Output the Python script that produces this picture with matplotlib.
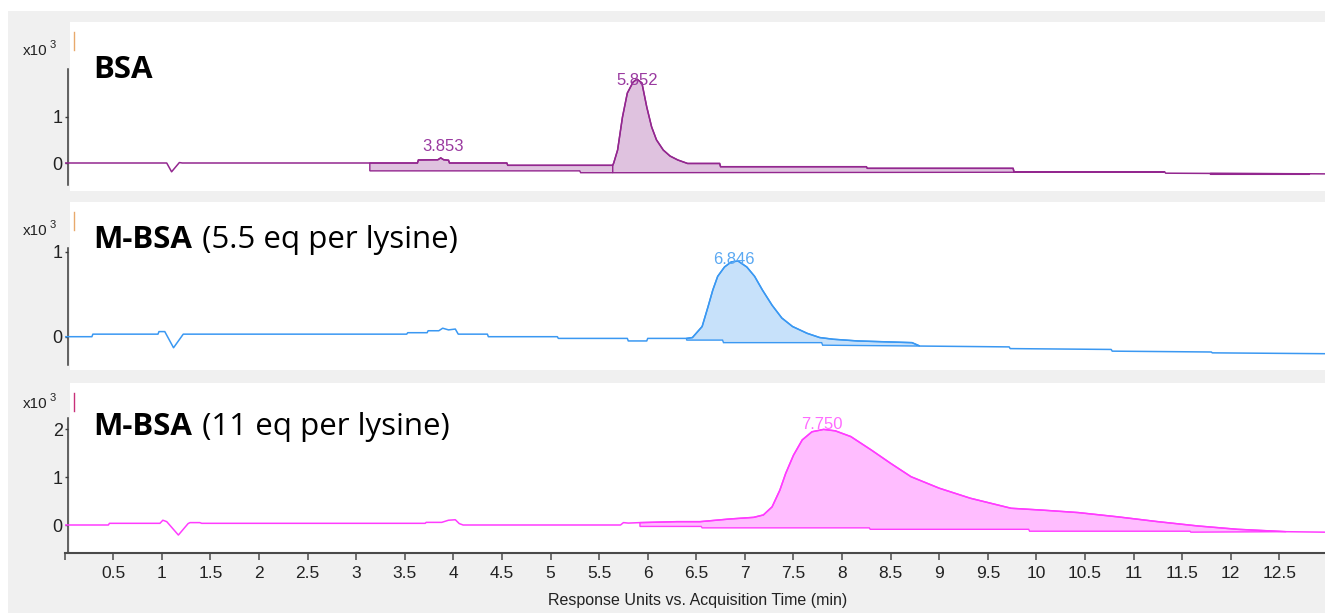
import numpy as np
import matplotlib
matplotlib.use('Agg')
import matplotlib.pyplot as plt
from matplotlib.patches import Rectangle
from matplotlib.lines import Line2D

# ---------------- data (time in min, response in x10^3) ----------------
bsa_t = [0, 1.05, 1.10, 1.18, 1.21, 3.14, 3.63, 3.64, 3.84, 3.87, 3.90, 3.95, 3.96,
         4.55, 4.56, 5.64, 5.65, 5.69, 5.74, 5.79, 5.85, 5.89, 5.94, 5.99, 6.04, 6.09,
         6.16, 6.23, 6.31, 6.41, 6.74, 6.75, 8.25, 8.26, 9.76, 9.77, 11.32, 11.33,
         11.79, 12.81, 12.97]
bsa_v = [0, 0, -0.19, 0.01, 0, 0, 0, 0.065, 0.07, 0.11, 0.07, 0.06, 0.0,
         0.0, -0.05, -0.05, 0.0, 0.28, 0.99, 1.51, 1.75, 1.81, 1.73, 1.21, 0.78, 0.50,
         0.28, 0.15, 0.065, -0.01, -0.01, -0.08, -0.08, -0.115, -0.115, -0.19, -0.19, -0.22,
         -0.225, -0.233, -0.235]
bsa_regions = [(3.14, 5.64), (5.64, 11.32), (11.79, 12.81)]
bsa_base_t = [[3.14, 5.30, 5.31, 5.64], [5.64, 9.76, 9.77, 11.32], [11.79, 12.81]]
bsa_base_v = [[-0.17, -0.17, -0.21, -0.21], [-0.21, -0.20, -0.19, -0.19], [-0.245, -0.245]]
bsa_peaks = ['3.853', '5.852']
bsa_peak_t = [3.853, 5.852]
bsa_peak_v = [0.19, 1.62]

mbsa55_t = [0, 0.28, 0.29, 0.96, 0.97, 1.03, 1.12, 1.22, 3.52, 3.53, 3.73, 3.74, 3.85,
            3.89, 3.95, 4.02, 4.05, 4.35, 4.36, 5.07, 5.08, 5.79, 5.80, 5.99, 6.00, 6.40,
            6.46, 6.56, 6.62, 6.67, 6.72, 6.79, 6.86, 6.93, 7.02, 7.10, 7.18, 7.28, 7.38,
            7.49, 7.64, 7.77, 7.91, 8.16, 8.72, 8.80, 9.72, 9.73, 10.77, 10.78, 11.80,
            11.81, 12.97]
mbsa55_v = [0, 0, 0.03, 0.03, 0.06, 0.06, -0.13, 0.03, 0.03, 0.047, 0.047, 0.07, 0.07,
            0.10, 0.08, 0.09, 0.03, 0.03, 0.0, 0.0, -0.02, -0.02, -0.05, -0.05, -0.02, -0.02,
            -0.01, 0.12, 0.35, 0.55, 0.71, 0.82, 0.88, 0.89, 0.82, 0.71, 0.55, 0.37, 0.22,
            0.12, 0.04, -0.01, -0.03, -0.05, -0.07, -0.11, -0.12, -0.14, -0.15, -0.17, -0.18,
            -0.19, -0.20]
mbsa55_regions = [(6.40, 8.80)]
mbsa55_base_t = [[6.40, 6.77, 6.78, 7.79, 7.80, 8.80]]
mbsa55_base_v = [[-0.04, -0.04, -0.07, -0.07, -0.10, -0.11]]
mbsa55_peaks = ['6.846']
mbsa55_peak_t = [6.846]
mbsa55_peak_v = [0.82]

mbsa11_t = [0, 0.45, 0.46, 0.98, 1.01, 1.05, 1.17, 1.27, 1.29, 1.39, 1.41, 3.71, 3.72,
            3.88, 3.95, 4.02, 4.06, 4.10, 5.72, 5.75, 5.80, 5.92, 6.30, 6.54, 6.84, 7.09,
            7.19, 7.28, 7.36, 7.42, 7.50, 7.59, 7.69, 7.81, 7.93, 8.09, 8.30, 8.50, 8.71,
            9.00, 9.32, 9.74, 10.07, 10.43, 10.84, 11.25, 11.66, 12.07, 12.57, 12.97]
mbsa11_v = [0, 0, 0.035, 0.035, 0.10, 0.07, -0.21, 0.03, 0.05, 0.05, 0.035, 0.035, 0.055,
            0.055, 0.10, 0.11, 0.03, 0.0, 0.0, 0.05, 0.04, 0.05, 0.07, 0.07, 0.125, 0.16,
            0.21, 0.38, 0.73, 1.08, 1.46, 1.78, 1.95, 2.0, 1.97, 1.85, 1.57, 1.29, 1.01,
            0.77, 0.56, 0.35, 0.31, 0.26, 0.17, 0.07, -0.02, -0.09, -0.14, -0.15]
mbsa11_regions = [(5.92, 12.57)]
mbsa11_base_t = [[5.92, 6.55, 6.56, 8.28, 8.29, 9.92, 9.93, 11.58, 11.59, 12.57]]
mbsa11_base_v = [[-0.03, -0.03, -0.06, -0.06, -0.09, -0.09, -0.13, -0.13, -0.15, -0.14]]
mbsa11_peaks = ['7.750']
mbsa11_peak_t = [7.750]
mbsa11_peak_v = [1.95]

panel_bold = ['BSA', 'M-BSA', 'M-BSA']
panel_rest = ['', ' (5.5 eq per lysine)', ' (11 eq per lysine)']
panel_yticks = [[0, 1], [0, 1], [0, 1, 2]]
panel_yticklabels = [['0', '1'], ['0', '1'], ['0', '1', '2']]

xtick_values = [0, 0.5, 1, 1.5, 2, 2.5, 3, 3.5, 4, 4.5, 5, 5.5, 6, 6.5, 7, 7.5, 8, 8.5,
                9, 9.5, 10, 10.5, 11, 11.5, 12, 12.5]
xtick_labels = ['', '0.5', '1', '1.5', '2', '2.5', '3', '3.5', '4', '4.5', '5', '5.5', '6',
                '6.5', '7', '7.5', '8', '8.5', '9', '9.5', '10', '10.5', '11', '11.5', '12',
                '12.5']
xlabel = 'Response Units vs. Acquisition Time (min)'

# ---------------- layout / style ----------------
W, H = 1325, 613
NARROW = ['Liberation Sans Narrow', 'Liberation Sans', 'DejaVu Sans']
LABELFONT = ['Open Sans', 'DejaVu Sans']

def fx(px):
    return px / W

def fy(py):
    return 1 - py / H

panels = [
    dict(t=bsa_t, v=bsa_v, regions=bsa_regions, bt=bsa_base_t, bv=bsa_base_v,
         peaks=bsa_peaks, pt=bsa_peak_t, pv=bsa_peak_v,
         line='#93278f', fill='#dfc2df', text='#9a3aa0', mark='#e8a96c',
         top=22, bottom=191, zero=163, ppu=46.3, spine=(2.03, -0.475)),
    dict(t=mbsa55_t, v=mbsa55_v, regions=mbsa55_regions, bt=mbsa55_base_t, bv=mbsa55_base_v,
         peaks=mbsa55_peaks, pt=mbsa55_peak_t, pv=mbsa55_peak_v,
         line='#3a98f2', fill='#c7e1fa', text='#5aa8f2', mark='#e8a96c',
         top=202, bottom=370, zero=336.7, ppu=85.0, spine=(1.04, -0.333)),
    dict(t=mbsa11_t, v=mbsa11_v, regions=mbsa11_regions, bt=mbsa11_base_t, bv=mbsa11_base_v,
         peaks=mbsa11_peaks, pt=mbsa11_peak_t, pv=mbsa11_peak_v,
         line='#ff3cff', fill='#ffbdff', text='#ff6cff', mark='#c8307a',
         top=383, bottom=553, zero=525, ppu=47.8, spine=(2.24, None)),
]

fig = plt.figure(figsize=(W / 100, H / 100), dpi=100, facecolor='#f0f0f0')
fig.patches.append(Rectangle((0, fy(11)), 1, 11 / H, transform=fig.transFigure,
                             facecolor='white', edgecolor='none', zorder=-5))
fig.patches.append(Rectangle((0, 0), 8 / W, 1, transform=fig.transFigure,
                             facecolor='white', edgecolor='none', zorder=-5))

x0 = 64.7
axes = []
for i, p in enumerate(panels):
    top, bottom = p['top'], p['bottom']
    fig.patches.append(Rectangle((fx(70), fy(bottom)), 1 - fx(70), (bottom - top) / H,
                                 transform=fig.transFigure, facecolor='white',
                                 edgecolor='none', zorder=-4))
    ax = fig.add_axes([fx(x0), fy(bottom), 1 - fx(x0), (bottom - top) / H])
    ax.set_facecolor('none')
    ax.set_xlim(0, 12.97)
    ylo = -(bottom - p['zero']) / p['ppu']
    yhi = (p['zero'] - top) / p['ppu']
    ax.set_ylim(ylo, yhi)

    t = np.array(p['t'])
    v = np.array(p['v'])
    # shaded integration regions
    for (a, b), bt, bv in zip(p['regions'], p['bt'], p['bv']):
        m = (t >= a) & (t <= b)
        px = np.r_[t[m], np.array(bt)[::-1]]
        py = np.r_[v[m], np.array(bv)[::-1]]
        ax.fill(px, py, facecolor=p['fill'], edgecolor=p['line'], lw=1.0, zorder=2)
    ax.plot(t, v, color=p['line'], lw=1.1, zorder=3)

    for lab, pt, pv in zip(p['peaks'], p['pt'], p['pv']):
        ax.text(pt + 0.04, pv, lab, ha='center', va='bottom', fontsize=12,
                family=NARROW, color=p['text'], zorder=4)

    for s in ['top', 'right']:
        ax.spines[s].set_visible(False)
    ax.spines['left'].set_position(('axes', 3 / (W - x0)))
    ax.spines['left'].set_color('#3a3a3a')
    ax.spines['left'].set_linewidth(1.1)
    lo = p['spine'][1] if p['spine'][1] is not None else ylo
    ax.spines['left'].set_bounds(lo, p['spine'][0])
    ax.set_yticks(panel_yticks[i])
    ax.set_yticklabels(panel_yticklabels[i], family=NARROW, fontsize=13, color='#222222')
    ax.tick_params(axis='y', direction='out', length=2.5, width=1.0, pad=1,
                   color='#3a3a3a')

    if i < 2:
        ax.spines['bottom'].set_visible(False)
        ax.set_xticks([])
    else:
        ax.spines['bottom'].set_color('#4a4a4a')
        ax.spines['bottom'].set_linewidth(1.5)
        ax.set_xticks(xtick_values)
        ax.set_xticklabels(xtick_labels, family=NARROW, fontsize=12.5, color='#222222')
        ax.tick_params(axis='x', direction='out', length=5, width=1.1, pad=4,
                       color='#4a4a4a')
    axes.append(ax)

    # small coloured marker at top of axis
    fig.lines.append(Line2D([fx(74), fx(74)], [fy(top + 10), fy(top + 28)],
                            transform=fig.transFigure, color=p['mark'], lw=1.0))

fig.canvas.draw()
renderer = fig.canvas.get_renderer()

# x10^3 labels and panel titles
x10_base = [55, 235, 408]
title_base = [78, 248, 435]
for i, p in enumerate(panels):
    tx = fig.text(fx(23), fy(x10_base[i]), 'x10', family=NARROW, fontsize=11,
                  color='#222222', va='baseline', ha='left')
    bb = tx.get_window_extent(renderer)
    fig.text((bb.x1 + 2) / W, fy(x10_base[i] - 7), '3', family=NARROW, fontsize=8,
             color='#222222', va='baseline', ha='left')

    tb = fig.text(fx(93), fy(title_base[i]), panel_bold[i], family=LABELFONT,
                  fontsize=22.5, fontweight='bold', color='black', va='baseline', ha='left')
    if panel_rest[i]:
        bb = tb.get_window_extent(renderer)
        fig.text((bb.x1 + 2) / W, fy(title_base[i]), panel_rest[i], family=LABELFONT,
                 fontsize=22.5, color='black', va='baseline', ha='left')

fig.text(fx(698), fy(600), xlabel, family=NARROW, fontsize=11.5, color='#222222',
         ha='center', va='center')

fig.savefig('out.png', dpi=100, facecolor=fig.get_facecolor())
